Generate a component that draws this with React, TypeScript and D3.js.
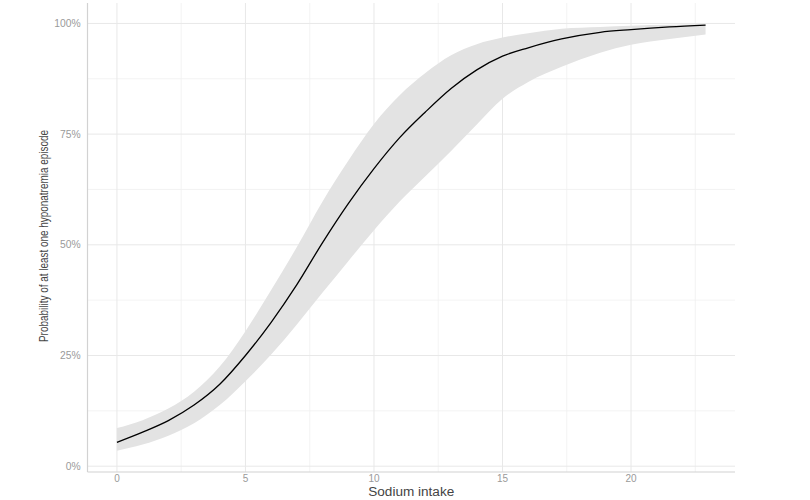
import React from "react";
import * as d3 from "d3";

const sodium = [0, 1, 2, 3, 4, 5, 6, 7, 8, 9, 10, 11, 12, 13, 14, 15, 16, 17.3, 18.8, 20, 21.5, 22.9];
const probability = [0.054, 0.077, 0.103, 0.138, 0.185, 0.25, 0.325, 0.41, 0.505, 0.593, 0.672, 0.742, 0.8, 0.853, 0.895, 0.926, 0.945, 0.965, 0.98, 0.986, 0.992, 0.996];
const lower = [0.035, 0.049, 0.069, 0.097, 0.138, 0.192, 0.252, 0.32, 0.392, 0.463, 0.533, 0.598, 0.655, 0.712, 0.772, 0.83, 0.868, 0.902, 0.934, 0.952, 0.965, 0.975];
const upper = [0.086, 0.104, 0.13, 0.168, 0.225, 0.305, 0.398, 0.495, 0.598, 0.69, 0.773, 0.838, 0.888, 0.928, 0.953, 0.968, 0.978, 0.988, 0.992, 0.995, 0.997, 0.998];

const xTicks = [0, 5, 10, 15, 20];
const xMinor = [2.5, 7.5, 12.5, 17.5, 22.5];
const yTicks = [0, 0.25, 0.5, 0.75, 1];
const yMinor = [0.125, 0.375, 0.625, 0.875];
const xTitle = "Sodium intake";
const yTitle = "Probability of at least one hyponatremia episode";

export default function App() {
  const W = 810, H = 500;
  const left = 87.5, right = 735, top = 3, bottom = 472;
  const xmin = d3.min(sodium)!, xmax = d3.max(sodium)!;
  const xpad = (xmax - xmin) * 0.05;
  const x = d3.scaleLinear().domain([xmin - xpad, xmax + xpad]).range([left, right]);
  const ymin = d3.min(lower)!, ymax = d3.max(upper)!;
  const ypad = (ymax - ymin) * 0.05;
  const y = d3.scaleLinear().domain([ymin - ypad, ymax + ypad]).range([bottom, top]);

  const data = sodium.map((s, i) => ({ s, p: probability[i], lo: lower[i], hi: upper[i] }));
  const area = d3.area<any>().x((d) => x(d.s)).y0((d) => y(d.lo)).y1((d) => y(d.hi)).curve(d3.curveMonotoneX);
  const line = d3.line<any>().x((d) => x(d.s)).y((d) => y(d.p)).curve(d3.curveMonotoneX);
  const pct = d3.format(".0%");

  return (
    <svg width={W} height={H} style={{ position: "absolute", left: 0, top: 0, background: "#fff" }}
      fontFamily="'Liberation Sans', Arial, sans-serif">
      <rect x={0} y={0} width={W} height={H} fill="#fff" />
      {yMinor.map((v) => (
        <line key={"ym" + v} x1={left} x2={right} y1={y(v)} y2={y(v)} stroke="#f0f0f0" strokeWidth={0.8} />
      ))}
      {xMinor.map((v) => (
        <line key={"xm" + v} y1={top} y2={bottom} x1={x(v)} x2={x(v)} stroke="#f0f0f0" strokeWidth={0.8} />
      ))}
      {yTicks.map((v) => (
        <line key={"yg" + v} x1={left} x2={right} y1={y(v)} y2={y(v)} stroke="#e8e8e8" strokeWidth={1} />
      ))}
      {xTicks.map((v) => (
        <line key={"xg" + v} y1={top} y2={bottom} x1={x(v)} x2={x(v)} stroke="#e8e8e8" strokeWidth={1} />
      ))}
      <path d={area(data)!} fill="#e3e3e3" />
      <path d={line(data)!} fill="none" stroke="#000" strokeWidth={1.3} />
      <line x1={left} x2={left} y1={top} y2={bottom} stroke="#d2d2d2" strokeWidth={1.2} />
      <line x1={left} x2={right} y1={bottom} y2={bottom} stroke="#d2d2d2" strokeWidth={1.2} />
      {yTicks.map((v) => (
        <text key={"yl" + v} x={80.7} y={y(v)} dy="0.35em" textAnchor="end" fontSize={10.3} fill="#9a9a9a">
          {pct(v)}
        </text>
      ))}
      {xTicks.map((v) => (
        <text key={"xl" + v} x={x(v)} y={481.5} textAnchor="middle" fontSize={10} fill="#9a9a9a">
          {v}
        </text>
      ))}
      <text x={(left + right) / 2} y={495.5} textAnchor="middle" fontSize={12} fill="#444"
        textLength={86} lengthAdjust="spacingAndGlyphs">
        {xTitle}
      </text>
      <text transform={`translate(47.5, ${(top + bottom) / 2 - 1.5}) rotate(-90)`} textAnchor="middle" fontSize={12.5}
        fill="#444" textLength={212} lengthAdjust="spacingAndGlyphs">
        {yTitle}
      </text>
    </svg>
  );
}
